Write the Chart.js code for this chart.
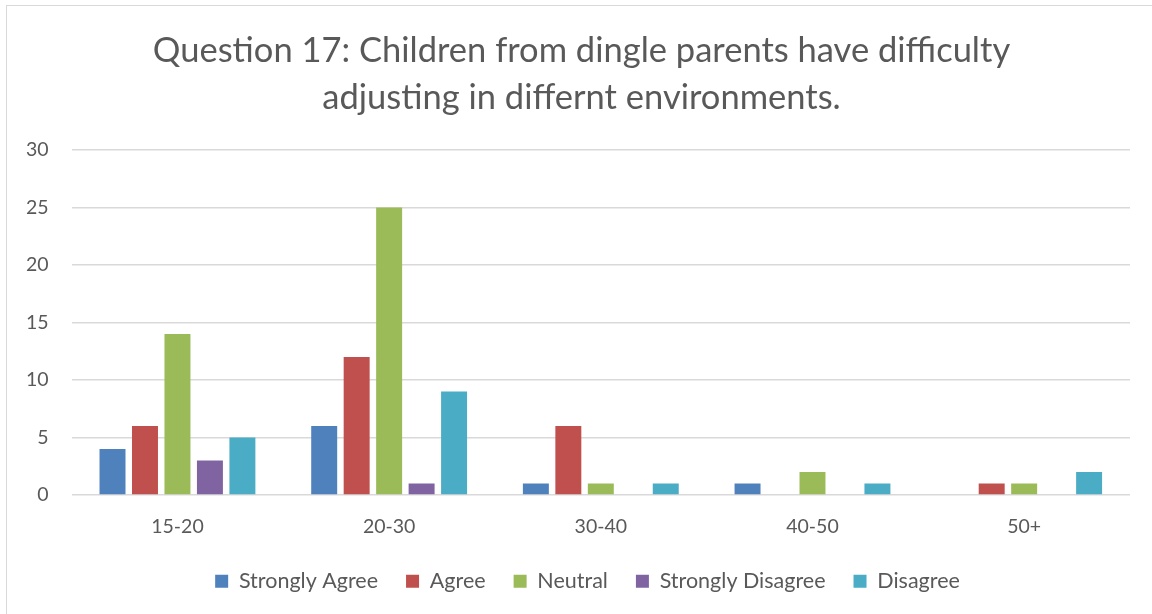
<!DOCTYPE html>
<html><head><meta charset="utf-8">
<script src="https://cdn.jsdelivr.net/npm/chart.js@4"></script>
<style>
html,body{margin:0;padding:0;background:#fff;}
#wrap{position:absolute;left:0;top:0;width:1152px;height:614px;}
#frame{position:absolute;left:6px;top:5px;width:1160px;height:620px;border-left:1.5px solid #d9d9d9;border-top:1.5px solid #d9d9d9;}
</style></head>
<body>
<div id="wrap"><div id="frame"></div><canvas id="c" width="1152" height="614"></canvas></div>
<script>
const titleLines = ["Question 17: Children from dingle parents have difficulty", "adjusting in differnt environments."];
const categories = ["15-20", "20-30", "30-40", "40-50", "50+"];
const seriesNames = ["Strongly Agree", "Agree", "Neutral", "Strongly Disagree", "Disagree"];
const stronglyAgree = [4, 6, 1, 1, 0];
const agree = [6, 12, 6, 0, 1];
const neutral = [14, 25, 1, 2, 1];
const stronglyDisagree = [3, 1, 0, 0, 0];
const disagree = [5, 9, 1, 1, 2];
const yTicks = [0, 5, 10, 15, 20, 25, 30];

const colors = ["#4F81BD", "#C0504D", "#9BBB59", "#8064A2", "#4BACC6"];
const values = [stronglyAgree, agree, neutral, stronglyDisagree, disagree];
const FONT = "Lato, 'Open Sans', sans-serif";
const TXT = "#595959";

const shiftBlocks = {
  id: 'shiftBlocks',
  afterLayout(chart) {
    const t = chart.titleBlock;
    if (t) { t.left += 15; t.right += 15; }
    const l = chart.legend;
    if (l) { l.left += 21; l.right += 21; }
  }
};

new Chart(document.getElementById('c'), {
  type: 'bar',
  data: {
    labels: categories,
    datasets: seriesNames.map((n, i) => ({
      label: n, data: values[i], backgroundColor: colors[i], borderWidth: 0,
      categoryPercentage: 0.767, barPercentage: 0.8
    }))
  },
  plugins: [shiftBlocks],
  options: {
    responsive: false, animation: false,
    layout: { padding: { left: 3, right: 22, top: 27, bottom: 12 } },
    plugins: {
      title: { display: true, text: titleLines, color: TXT, font: { family: FONT, size: 34.5, weight: 'normal', lineHeight: 1.36 }, padding: { top: 0, bottom: 29 } },
      legend: { position: 'bottom', labels: { color: TXT, font: { family: FONT, size: 21.5 }, boxWidth: 13, boxHeight: 13, padding: 28 } },
      tooltip: { enabled: false }
    },
    scales: {
      x: { grid: { display: false, drawTicks: false }, border: { display: false },
           afterFit: s => { s.height -= 16; },
           ticks: { color: TXT, font: { family: FONT, size: 19.5 }, padding: 20 } },
      y: { min: 0, max: 30, afterBuildTicks: ax => { ax.ticks = yTicks.map(v => ({ value: v })); },
           grid: { color: '#d9d9d9', lineWidth: 1.5, drawTicks: false }, border: { display: false },
           ticks: { color: TXT, font: { family: FONT, size: 19.5 }, padding: 23 } }
    }
  }
});
</script>
</body></html>
